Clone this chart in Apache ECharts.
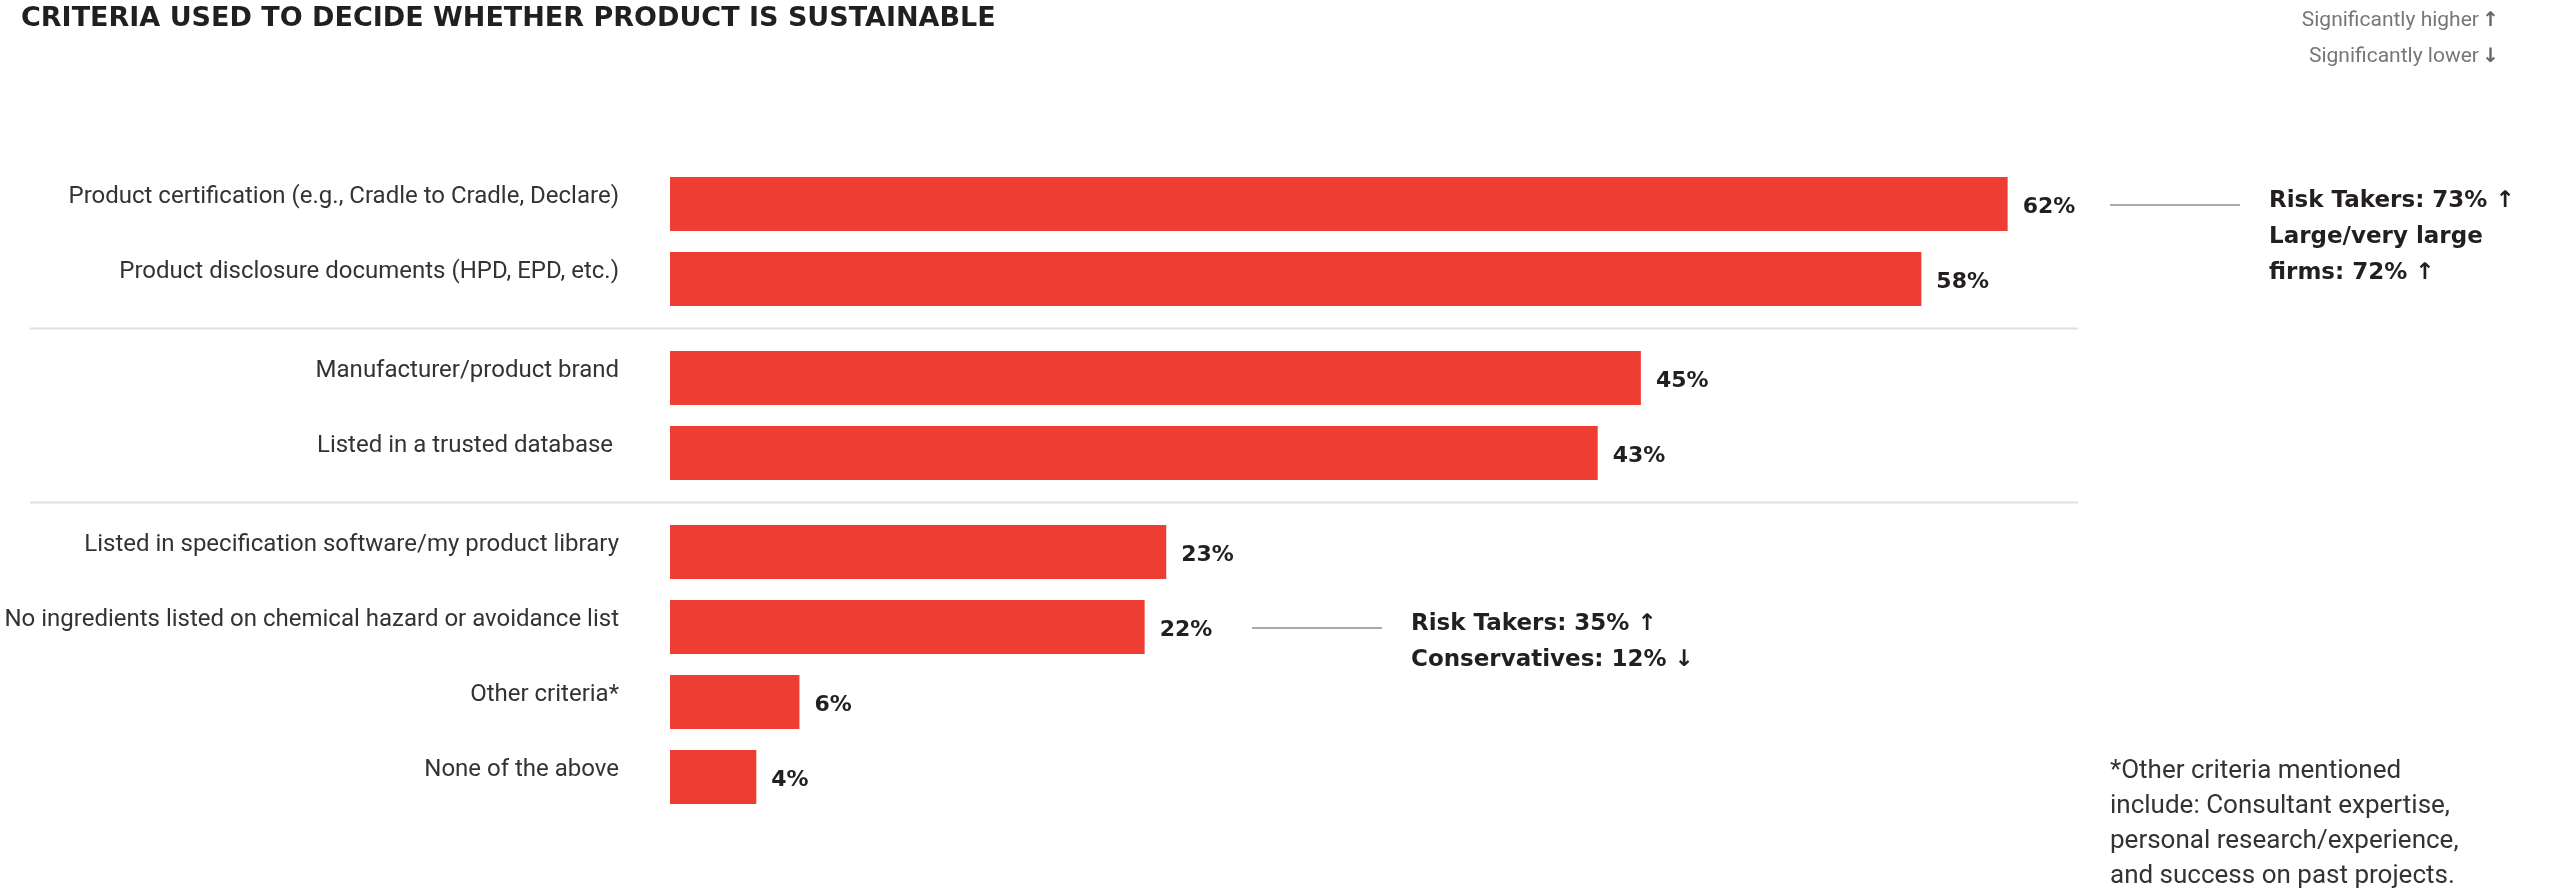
<!DOCTYPE html>
<html>
<head>
<meta charset="utf-8">
<script src="https://cdn.jsdelivr.net/npm/echarts@6/dist/echarts.min.js"></script>
<style>
  html, body { margin: 0; padding: 0; background: #ffffff; }
  #chart { width: 2553px; height: 890px; }
</style>
</head>
<body>
<div id="chart"></div>
<script>
// ---- chart data ----
const titleText = 'CRITERIA USED TO DECIDE WHETHER PRODUCT IS SUSTAINABLE';

const groupCategories = [
  ['Product certification (e.g., Cradle to Cradle, Declare)', 'Product disclosure documents (HPD, EPD, etc.)'],
  ['Manufacturer/product brand', 'Listed in a trusted database '],
  ['Listed in specification software/my product library', 'No ingredients listed on chemical hazard or avoidance list', 'Other criteria*', 'None of the above']
];
const groupValues = [
  [62, 58],
  [45, 43],
  [23, 22, 6, 4]
];

const legendLabels = ['Significantly higher', 'Significantly lower'];
const legendArrows = ['\u2191', '\u2193'];

// subgroup call-outs attached to a bar (group index, row index within group)
const notes = [
  { group: 0, row: 0, lines: ['Risk Takers: 73% \u2191', 'Large/very large', 'firms: 72% \u2191'] },
  { group: 2, row: 1, lines: ['Risk Takers: 35% \u2191', 'Conservatives: 12% \u2193'] }
];

const footnoteLines = [
  '*Other criteria mentioned',
  'include: Consultant expertise,',
  'personal research/experience,',
  'and success on past projects.'
];

// ---- layout ----
const ROW = 75;          // pixel pitch of one category row
const GROUP_GAP = 24;    // extra space between groups
const TOP0 = 166.5;      // top of first group band
const PLOT_LEFT = 670;
const AXIS_MAX = 80;
const PLOT_WIDTH = 1726;
const BAR_COLOR = '#ee3e34';
const INK = '#231f20';
const noteLineX = [2110, 1252];   // connector start for each note
const NOTE_LINE_LEN = 130;
const NOTE_TEXT_GAP = 29;

const chart = echarts.init(document.getElementById('chart'));

const grids = [], xAxes = [], yAxes = [], series = [];
let rowsBefore = 0;
groupCategories.forEach((cats, g) => {
  const top = TOP0 + rowsBefore * ROW + g * GROUP_GAP;
  grids.push({ left: PLOT_LEFT, top: top, width: PLOT_WIDTH, height: cats.length * ROW });
  xAxes.push({
    gridIndex: g, type: 'value', min: 0, max: AXIS_MAX, show: false,
    splitLine: { show: false }
  });
  yAxes.push({
    gridIndex: g, type: 'category', inverse: true, data: cats,
    axisLine: { show: false }, axisTick: { show: false }, splitLine: { show: false },
    axisLabel: {
      margin: 51, color: '#333333', fontFamily: 'Roboto', fontSize: 24,
      verticalAlign: 'bottom', lineHeight: 14
    }
  });
  series.push({
    type: 'bar', xAxisIndex: g, yAxisIndex: g, data: groupValues[g],
    barWidth: 54, itemStyle: { color: BAR_COLOR }, silent: true,
    label: {
      show: true, position: 'right', distance: 15, offset: [0, 3],
      formatter: '{c}%', color: INK, fontFamily: 'DejaVu Sans', fontWeight: 'bold', fontSize: 22
    }
  });
  rowsBefore += cats.length;
});

chart.setOption({
  animation: false,
  backgroundColor: '#ffffff',
  title: {
    text: titleText, left: 16, top: 0,
    textStyle: { color: INK, fontFamily: 'DejaVu Sans', fontWeight: 'bold', fontSize: 27 }
  },
  grid: grids, xAxis: xAxes, yAxis: yAxes, series: series
});

// ---- decorations placed from the axes ----
const graphics = [];

// dividers between groups
for (let g = 1; g < grids.length; g++) {
  const y = grids[g].top - GROUP_GAP / 2;
  graphics.push({
    type: 'line', silent: true,
    shape: { x1: 30, y1: y, x2: 2078, y2: y },
    style: { stroke: '#e0e0e0', lineWidth: 2 }
  });
}

// call-outs
notes.forEach((n, i) => {
  const cy = chart.convertToPixel({ yAxisIndex: n.group }, groupCategories[n.group][n.row]);
  const x1 = noteLineX[i];
  graphics.push({
    type: 'line', silent: true,
    shape: { x1: x1, y1: cy + 1, x2: x1 + NOTE_LINE_LEN, y2: cy + 1 },
    style: { stroke: '#aaaaaa', lineWidth: 2 }
  });
  graphics.push({
    type: 'text', silent: true, x: x1 + NOTE_LINE_LEN + NOTE_TEXT_GAP, y: cy - 21,
    style: {
      text: n.lines.join('\n'), fill: INK, fontFamily: 'DejaVu Sans', fontWeight: 'bold',
      fontSize: 23, lineHeight: 36, verticalAlign: 'top', align: 'left'
    }
  });
});

// significance legend
legendLabels.forEach((label, i) => {
  graphics.push({
    type: 'text', silent: true, x: 2499, y: 21 + i * 36,
    style: {
      text: '{t|' + label + '} {a|' + legendArrows[i] + '}',
      align: 'right', verticalAlign: 'middle',
      rich: {
        t: { fill: '#777777', fontFamily: 'Roboto', fontSize: 21 },
        a: { fill: '#666666', fontFamily: 'DejaVu Sans', fontWeight: 'bold', fontSize: 20 }
      }
    }
  });
});

// footnote
graphics.push({
  type: 'text', silent: true, x: 2110, y: 754,
  style: {
    text: footnoteLines.join('\n'), fill: '#333333', fontFamily: 'Roboto', fontSize: 26,
    lineHeight: 35, align: 'left', verticalAlign: 'top'
  }
});

chart.setOption({ graphic: graphics });
</script>
</body>
</html>
